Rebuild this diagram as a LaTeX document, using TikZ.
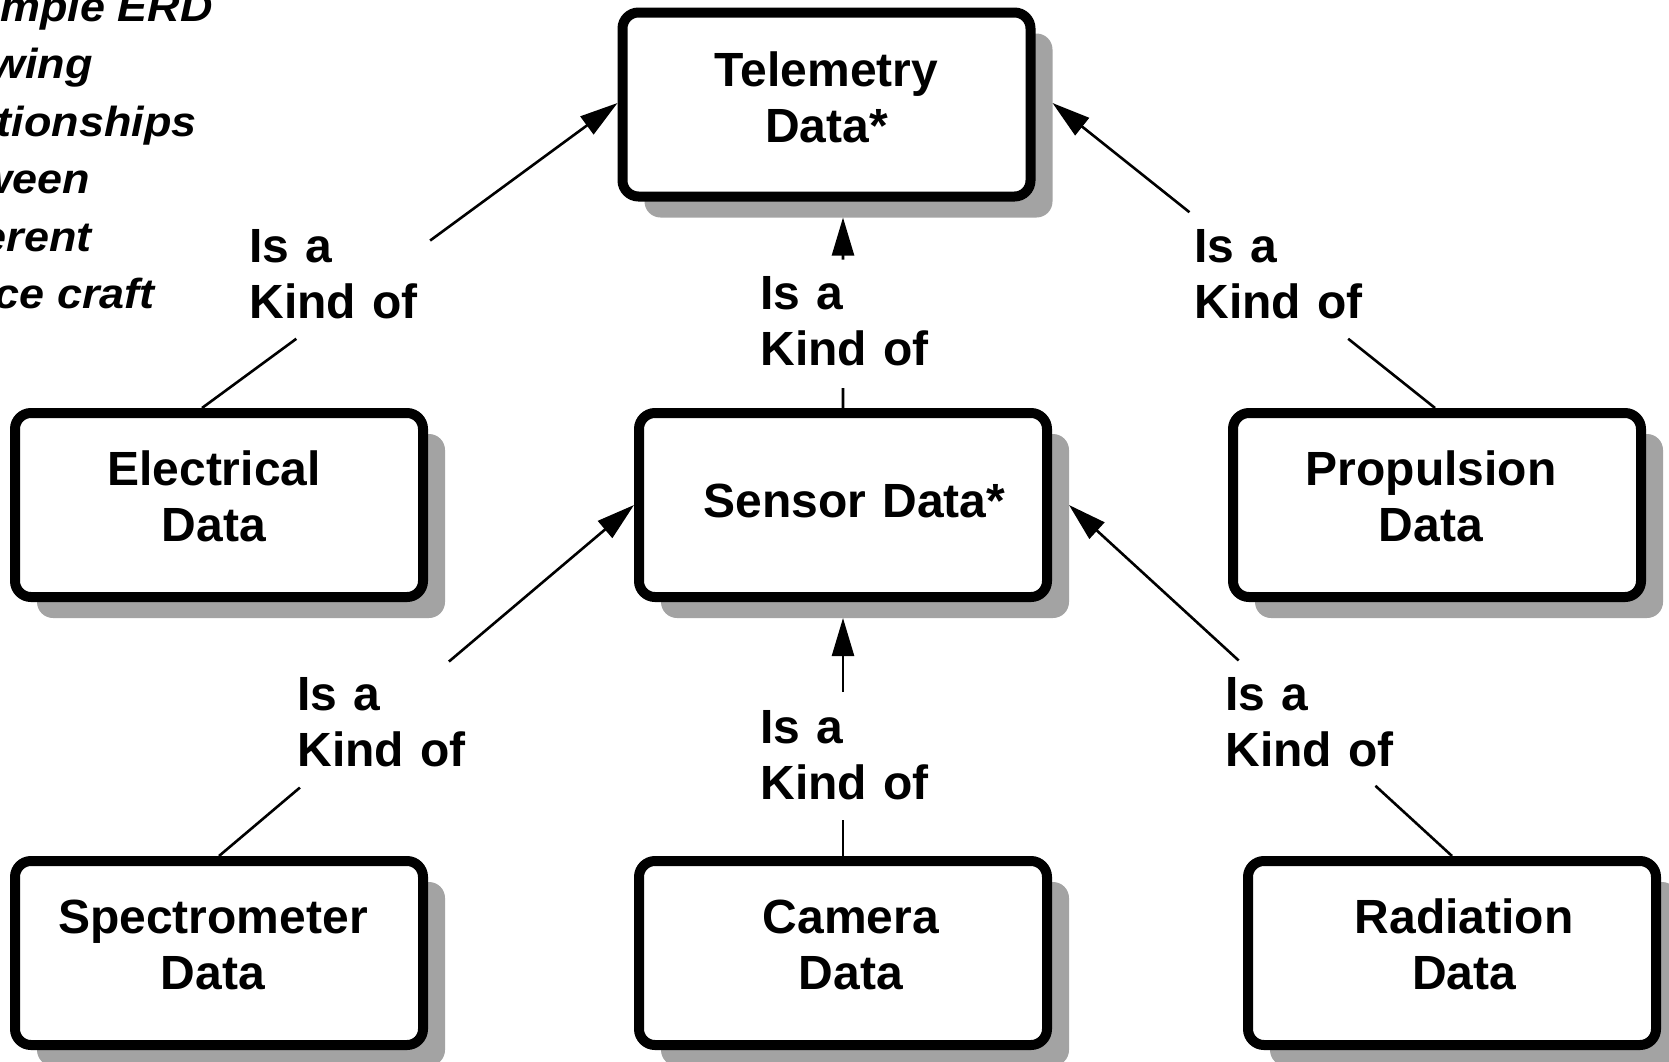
\documentclass[tikz,border=0pt]{standalone}
\usepackage{fontspec}
\setmainfont{Liberation Sans}
\usepackage{graphicx}
\usetikzlibrary{arrows.meta,calc,shadows}
\definecolor{shadowgray}{RGB}{163,163,163}
\tikzset{
  erdbox/.style={draw=black, line width=5pt, rounded corners=8pt, fill=white,
    minimum width=204pt, minimum height=92pt, inner sep=0pt, outer sep=2.5pt,
    drop shadow={shadow xshift=11pt, shadow yshift=-10.5pt, fill=shadowgray, opacity=1}},
  boxtxt/.style={font=\fontsize{24pt}{28pt}\selectfont\bfseries, text width=200pt,
    align=center, inner sep=0pt, anchor=base},
  lbl/.style={font=\fontsize{24pt}{28pt}\selectfont\bfseries, text width=100pt,
    align=left, inner sep=0pt, anchor=base west},
  ital/.style={font=\fontsize{21pt}{25pt}\selectfont\bfseries\itshape,
    inner sep=0pt, anchor=base east},
  conn/.style={line width=1.3pt, draw=black},
  arr/.style={conn, -{Triangle[length=19pt, width=11pt]}}
}
\begin{document}
\begin{tikzpicture}[x=0.5pt,y=-0.5pt]
\useasboundingbox (0,0) rectangle (1669,1061);
\clip (0,0) rectangle (1669,1061);

% title fragment at the left edge
\node[ital] (i1) at (213,21) {\scalebox{1.07}[1]{mple ERD}};
\node[ital] (i2) at (93,78) {\scalebox{1.07}[1]{wing}};
\node[ital] (i3) at (197,136) {\scalebox{1.07}[1]{tionships}};
\node[ital] (i4) at (90,193) {\scalebox{1.07}[1]{ween}};
\node[ital] (i5) at (92,251) {\scalebox{1.07}[1]{erent}};
\node[ital] (i6) at (155,308) {\scalebox{1.07}[1]{ce craft}};

% entity boxes
\node[erdbox] (T) at (826.5,104.5) {};
\node[erdbox] (S) at (843,505) {};
\node[erdbox] (E) at (219,505) {};
\node[erdbox] (P) at (1437,505) {};
\node[erdbox] (Sp) at (219,953) {};
\node[erdbox] (C) at (843,953) {};
\node[erdbox] (R) at (1452,953) {};

% entity texts
\node[boxtxt] (Tt) at (826.5,86) {Telemetry\\Data*};
\node[boxtxt] (St) at (854.5,517) {Sensor Data*};
\node[boxtxt] (Et) at (214,485) {Electrical\\Data};
\node[boxtxt] (Pt) at (1431,485) {Propulsion\\Data};
\node[boxtxt] (Spt) at (213,933) {Spectrometer\\Data};
\node[boxtxt] (Ct) at (851,933) {Camera\\Data};
\node[boxtxt] (Rt) at (1464,933) {Radiation\\Data};

% relationship labels
\node[lbl] (L1) at (249,262) {Is a\\Kind of};
\node[lbl] (L2) at (1194,262) {Is a\\Kind of};
\node[lbl] (L3) at (760,309) {Is a\\Kind of};
\node[lbl] (L4) at (297,710) {Is a\\Kind of};
\node[lbl] (L5) at (1225,710) {Is a\\Kind of};
\node[lbl] (L6) at (760,743) {Is a\\Kind of};

% connector end points
\coordinate (a1) at ($(E.north)+(-17,0)$);
\coordinate (b1) at ($(T.west)+(0,-1.5)$);
\coordinate (a2) at ($(P.north)+(-2,0)$);
\coordinate (b2) at ($(T.east)+(17,-1.5)$);
\coordinate (a3) at (S.north);
\coordinate (b3) at ($(S.north |- T.south)+(0,16)$);
\coordinate (a4) at (Sp.north);
\coordinate (b4) at (S.west);
\coordinate (a5) at (R.north);
\coordinate (b5) at ($(S.east)+(17,0)$);
\coordinate (a6) at (C.north);
\coordinate (b6) at ($(S.south)+(0,16)$);

% connectors, broken around their labels
\draw[conn] (a1) -- ($(a1)!0.227!(b1)$);
\draw[arr] ($(a1)!0.549!(b1)$) -- (b1);
\draw[conn] (a2) -- ($(a2)!0.227!(b2)$);
\draw[arr] ($(a2)!0.642!(b2)$) -- (b2);
\draw[conn] (a3) -- ($(a3)!0.105!(b3)$);
\draw[arr] ($(a3)!0.779!(b3)$) -- (b3);
\draw[conn] (a4) -- ($(a4)!0.195!(b4)$);
\draw[arr] ($(a4)!0.554!(b4)$) -- (b4);
\draw[conn] (a5) -- ($(a5)!0.2!(b5)$);
\draw[arr] ($(a5)!0.557!(b5)$) -- (b5);
\draw[conn] (a6) -- ($(a6)!0.151!(b6)$);
\draw[arr] ($(a6)!0.689!(b6)$) -- (b6);
\end{tikzpicture}
\end{document}
